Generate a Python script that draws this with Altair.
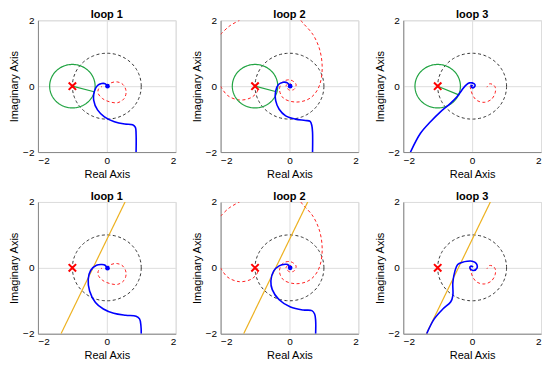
import altair as alt
import numpy as np
import pandas as pd

FONT = "Liberation Sans"

titles = ["loop 1", "loop 2", "loop 3"]
x_ticks = [-2, 0, 2]
y_ticks = [-2, -1, 0, 1, 2]
crit_x, crit_y = -1.0, 0.0
unit_radius = 1.0
green_radius = 0.66

# red dashed curves (same in both rows of a column)
red1_x = [0.0, 0.12, 0.3, 0.47, 0.56, 0.5, 0.32, 0.1, -0.12, -0.25, -0.24, -0.14]
red1_y = [0.0, 0.1, 0.13, 0.05, -0.16, -0.38, -0.5, -0.48, -0.38, -0.22, -0.08, -0.01]

red2a_x = [0.33, 0.38, 0.68, 0.88, 0.95, 0.88, 0.72, 0.5, 0.15, -0.18, -0.29, -0.2, 0.02, 0.19, 0.14, 0.0, -0.1, -0.02, 0.06, 0.04]
red2a_y = [2.0, 1.93, 1.57, 1.1, 0.55, 0.05, -0.25, -0.42, -0.48, -0.36, -0.1, 0.13, 0.19, 0.06, -0.09, -0.12, 0.0, 0.09, 0.04, -0.03]
red2b_x = [-2.0, -1.75, -1.45]
red2b_y = [1.57, 1.82, 2.0]
red2c_x = [-2.0, -1.8, -1.45, -1.1, -0.93, -0.93]
red2c_y = [0.0, -0.28, -0.42, -0.34, -0.15, -0.02]

red3_x = [-0.06, -0.03, 0.04, 0.15, 0.35, 0.56, 0.67, 0.67, 0.6, 0.5, 0.43]
red3_y = [0.0, -0.14, -0.32, -0.44, -0.49, -0.4, -0.2, -0.03, 0.05, 0.07, -0.03]

# blue curves, top row
blue_t1_x = [0.02, -0.04, -0.15, -0.27, -0.36, -0.38, -0.27, -0.07, 0.22, 0.52, 0.75, 0.83, 0.85, 0.85]
blue_t1_y = [0.0, 0.07, 0.08, 0.02, -0.15, -0.43, -0.72, -0.93, -1.08, -1.15, -1.17, -1.25, -1.45, -2.0]
blue_t2_x = [0.02, -0.06, -0.18, -0.32, -0.4, -0.4, -0.3, -0.11, 0.17, 0.46, 0.6, 0.65, 0.67, 0.67]
blue_t2_y = [0.0, 0.1, 0.12, 0.05, -0.15, -0.44, -0.7, -0.9, -1.0, -1.04, -1.07, -1.2, -1.4, -2.0]
blue_t3_x = [0.02, -0.03, -0.01, 0.06, 0.08, 0.0, -0.08, -0.17, -0.3, -0.44, -0.63, -0.92, -1.21, -1.5, -1.79]
blue_t3_y = [0.0, 0.03, -0.04, -0.03, 0.05, 0.1, 0.1, 0.04, -0.12, -0.32, -0.52, -0.78, -1.08, -1.43, -2.0]

# blue curves, bottom row
blue_b1_x = [0.02, -0.05, -0.14, -0.3, -0.47, -0.54, -0.5, -0.33, -0.1, 0.2, 0.55, 0.85, 0.95, 0.99, 1.0]
blue_b1_y = [-0.01, 0.08, 0.1, 0.08, -0.08, -0.35, -0.7, -1.05, -1.25, -1.38, -1.44, -1.47, -1.55, -1.75, -2.0]
blue_b2_x = [0.02, -0.05, -0.12, -0.3, -0.46, -0.54, -0.5, -0.3, 0.03, 0.4, 0.65, 0.73, 0.76, 0.76]
blue_b2_y = [0.0, 0.1, 0.11, 0.06, -0.1, -0.4, -0.66, -0.97, -1.19, -1.28, -1.3, -1.4, -1.6, -2.0]
blue_b3_x = [0.03, -0.04, -0.06, 0.04, 0.14, 0.12, 0.0, -0.14, -0.28, -0.42, -0.5, -0.56, -0.56, -0.62, -0.85, -1.1, -1.32]
blue_b3_y = [0.03, 0.05, -0.02, -0.08, -0.01, 0.13, 0.2, 0.2, 0.17, 0.1, -0.1, -0.45, -0.84, -1.03, -1.25, -1.55, -2.0]

# green radius line end points (top row)
green_end_x = [-0.37, -0.38, -0.37]
green_end_y = [-0.17, -0.17, -0.27]

# orange line (bottom row)
orange_x = [-1.33, 0.53]
orange_y = [-2.0, 2.0]

blue_dot = [True, True, False]

red_segments = [
    [(red1_x, red1_y)],
    [(red2a_x, red2a_y), (red2b_x, red2b_y), (red2c_x, red2c_y)],
    [(red3_x, red3_y)],
]
blue_top = [(blue_t1_x, blue_t1_y), (blue_t2_x, blue_t2_y), (blue_t3_x, blue_t3_y)]
blue_bottom = [(blue_b1_x, blue_b1_y), (blue_b2_x, blue_b2_y), (blue_b3_x, blue_b3_y)]

theta = np.linspace(0, 2 * np.pi, 145)


def make_panel(row, col):
    recs = []

    def add(kind, seg, xs, ys):
        for i, (a, b) in enumerate(zip(xs, ys)):
            recs.append({"kind": kind, "seg": seg, "i": i, "x": float(a), "y": float(b)})

    add("unit", "u", unit_radius * np.cos(theta), unit_radius * np.sin(theta))
    for k, (xs, ys) in enumerate(red_segments[col]):
        add("red", f"r{k}", xs, ys)
    if row == 0:
        add("green", "gc", crit_x + green_radius * np.cos(theta), crit_y + green_radius * np.sin(theta))
        add("green", "gl", [crit_x, green_end_x[col]], [crit_y, green_end_y[col]])
        bx, by = blue_top[col]
    else:
        add("orange", "o", orange_x, orange_y)
        bx, by = blue_bottom[col]
    add("blue", "b", bx, by)
    df = pd.DataFrame(recs)

    pts = [{"kind": "x", "x": crit_x, "y": crit_y}]
    if blue_dot[col]:
        pts.append({"kind": "dot", "x": bx[0], "y": by[0]})
    pdf = pd.DataFrame(pts)

    xenc = alt.X("x:Q", scale=alt.Scale(domain=[-2, 2], nice=False, zero=False),
                 axis=alt.Axis(values=x_ticks, title="Real Axis", labelPadding=3, titleY=16,
                               titleBaseline="top", titleFontWeight="normal", minExtent=0,
                               ticks=False, tickSize=0))
    yenc = alt.Y("y:Q", scale=alt.Scale(domain=[-2, 2], nice=False, zero=False),
                 axis=alt.Axis(values=y_ticks, title="Imaginary Axis", labelPadding=4, titleX=-18,
                               titleBaseline="bottom", titleFontWeight="normal", minExtent=0,
                               ticks=False, tickSize=0))

    base = alt.Chart(df).encode(x=xenc, y=yenc, order="i:Q", detail="seg:N")
    layers = [
        base.transform_filter(alt.datum.kind == "unit").mark_line(
            color="#333333", strokeWidth=1, strokeDash=[3, 2.5], clip=True),
        base.transform_filter(alt.datum.kind == "red").mark_line(
            color="#ff2020", strokeWidth=1, strokeDash=[3, 2.5], interpolate="catmull-rom", clip=True),
    ]
    if row == 0:
        layers.append(base.transform_filter(alt.datum.kind == "green").mark_line(
            color="#22a443", strokeWidth=1.2, clip=True))
    else:
        layers.append(base.transform_filter(alt.datum.kind == "orange").mark_line(
            color="#EDB120", strokeWidth=1.2, clip=True))
    layers.append(base.transform_filter(alt.datum.kind == "blue").mark_line(
        color="#0000ff", strokeWidth=1.6, interpolate="catmull-rom", clip=True))

    pbase = alt.Chart(pdf).encode(x=alt.X("x:Q"), y=alt.Y("y:Q"))
    layers.append(pbase.transform_filter(alt.datum.kind == "x").mark_point(
        shape="M-1,-1L1,1M-1,1L1,-1", filled=False, color="#ff0000", strokeWidth=2, size=55, opacity=1))
    if blue_dot[col]:
        layers.append(pbase.transform_filter(alt.datum.kind == "dot").mark_point(
            shape="circle", filled=True, color="#0000ff", size=22, opacity=1))

    return alt.layer(*layers).properties(
        width=138, height=132,
        title=alt.TitleParams(titles[col], fontSize=11, fontWeight="bold", font=FONT,
                              color="#000000", offset=-5),
    )


rows = [alt.hconcat(*[make_panel(r, c) for c in range(3)], spacing=14) for r in range(2)]
chart = alt.vconcat(*rows, spacing=10).properties(padding=0).configure_axis(
    labelFont=FONT, titleFont=FONT, labelFontSize=11, titleFontSize=11,
    titleFontWeight="normal", labelColor="#262626", titleColor="#262626",
    grid=True, gridColor="#e2e2e2", gridWidth=1, ticks=False, domain=False,
).configure_view(stroke="#5f5f5f", strokeWidth=1).configure(background="white")

chart.save("out.html", embed_options={"renderer": "svg", "actions": False})
